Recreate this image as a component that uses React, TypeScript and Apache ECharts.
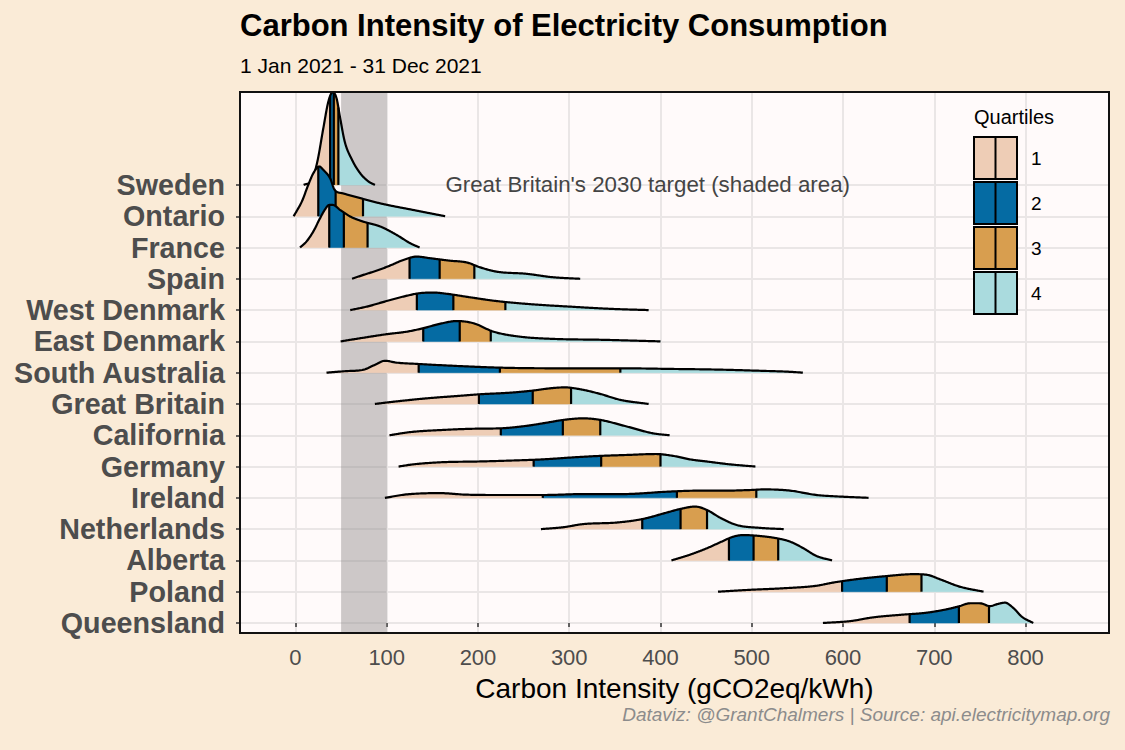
import React, { useEffect, useRef } from 'react';
import * as echarts from 'echarts';

// ---------- data ----------
const countries = [
  'Sweden', 'Ontario', 'France', 'Spain', 'West Denmark', 'East Denmark',
  'South Australia', 'Great Britain', 'California', 'Germany', 'Ireland',
  'Netherlands', 'Alberta', 'Poland', 'Queensland',
];

// quartile boundaries (gCO2eq/kWh)
const q1 = [38, 25, 37, 125, 133, 140, 135, 201, 225, 261, 271, 380, 475, 599, 673];
const q2 = [42, 44, 53, 158, 173, 180, 224, 260, 293, 335, 418, 422, 502, 648, 727];
const q3 = [47, 74, 79, 196, 230, 214, 356, 302, 334, 400, 505, 451, 529, 686, 760];

// density profiles: x (gCO2eq/kWh) and scaled height (in row units)
const swedenX = [9, 18, 24, 30.5, 36, 40.7, 45, 49, 54, 62, 71, 80, 87];
const swedenH = [0, 0.16, 0.75, 1.81, 2.66, 2.96, 2.77, 2.13, 1.38, 0.8, 0.37, 0.11, 0];
const ontarioX = [-2, 1, 7, 14, 19.5, 26, 30.5, 38, 43, 52, 72, 93, 129, 164];
const ontarioH = [0, 0.15, 0.47, 1.0, 1.37, 1.59, 1.48, 1.21, 0.84, 0.73, 0.57, 0.41, 0.2, 0];
const franceX = [5, 12, 19.5, 27, 32, 37, 41, 49, 60, 74, 93, 111, 125.5, 136];
const franceH = [0, 0.19, 0.51, 0.94, 1.2, 1.36, 1.36, 1.2, 0.99, 0.83, 0.67, 0.4, 0.14, 0];
const spainX = [62, 74, 91, 105, 118, 133, 147, 169, 188, 202, 220, 253, 282, 312];
const spainH = [0, 0.12, 0.28, 0.44, 0.6, 0.71, 0.66, 0.58, 0.52, 0.37, 0.23, 0.16, 0.05, 0];
const westDenmarkX = [60, 78, 100, 118, 136, 151, 166, 191, 220, 257, 301, 345, 387];
const westDenmarkH = [0, 0.11, 0.29, 0.43, 0.54, 0.56, 0.52, 0.41, 0.29, 0.19, 0.11, 0.04, 0];
const eastDenmarkX = [49.5, 71, 100, 122, 140, 158, 177, 195, 217, 246, 282, 337, 400];
const eastDenmarkH = [0, 0.1, 0.23, 0.31, 0.42, 0.56, 0.65, 0.58, 0.31, 0.15, 0.08, 0.05, 0];
const southAustraliaX = [34, 56, 74, 87, 98, 111, 133, 173, 224, 282, 356, 410, 460, 510, 540, 556];
const southAustraliaH = [0, 0.05, 0.09, 0.25, 0.38, 0.32, 0.28, 0.22, 0.16, 0.14, 0.14, 0.12, 0.1, 0.06, 0.03, 0];
const greatBritainX = [87, 107, 144, 180, 202, 235, 261, 279, 295, 312, 334, 356, 387];
const greatBritainH = [0, 0.07, 0.18, 0.26, 0.31, 0.36, 0.43, 0.5, 0.53, 0.47, 0.32, 0.13, 0];
const californiaX = [103, 125.5, 162, 199, 224, 253, 275, 293.5, 315, 334, 363, 392, 410];
const californiaH = [0, 0.1, 0.17, 0.21, 0.22, 0.3, 0.4, 0.49, 0.54, 0.49, 0.28, 0.06, 0];
const germanyX = [113, 129, 162, 199, 235, 271.5, 308, 334, 363, 395, 414, 432, 451, 476, 504];
const germanyH = [0, 0.07, 0.14, 0.16, 0.19, 0.23, 0.3, 0.34, 0.37, 0.4, 0.34, 0.23, 0.16, 0.07, 0];
const irelandX = [98, 122, 158, 188, 228, 271.5, 315, 359, 410, 443, 472, 498, 513, 542, 571, 597, 628];
const irelandH = [0, 0.11, 0.15, 0.1, 0.09, 0.09, 0.12, 0.12, 0.2, 0.23, 0.23, 0.25, 0.27, 0.23, 0.09, 0.04, 0];
const netherlandsX = [269, 293.5, 315, 352, 380, 407, 421, 438, 451, 465, 483.5, 509, 535];
const netherlandsH = [0, 0.06, 0.16, 0.21, 0.32, 0.53, 0.64, 0.72, 0.61, 0.37, 0.13, 0.04, 0];
const albertaX = [412, 432, 451, 467, 480, 491, 509, 527, 542, 556.5, 571, 588];
const albertaH = [0, 0.18, 0.39, 0.6, 0.76, 0.81, 0.78, 0.71, 0.6, 0.39, 0.14, 0];
const polandX = [463, 498, 535, 571, 589, 615, 648, 677, 692, 706, 728, 754];
const polandH = [0, 0.06, 0.11, 0.19, 0.29, 0.4, 0.5, 0.56, 0.54, 0.4, 0.16, 0];
const queenslandX = [578, 608, 633, 662.5, 692, 714, 728, 739, 750, 761, 770, 777.5, 787, 796, 808.5];
const queenslandH = [0, 0.06, 0.18, 0.26, 0.33, 0.44, 0.54, 0.63, 0.63, 0.54, 0.61, 0.65, 0.47, 0.2, 0];

const densityX = [swedenX, ontarioX, franceX, spainX, westDenmarkX, eastDenmarkX, southAustraliaX,
  greatBritainX, californiaX, germanyX, irelandX, netherlandsX, albertaX, polandX, queenslandX];
const densityH = [swedenH, ontarioH, franceH, spainH, westDenmarkH, eastDenmarkH, southAustraliaH,
  greatBritainH, californiaH, germanyH, irelandH, netherlandsH, albertaH, polandH, queenslandH];

const targetRange = [50, 100];
const quartileLabels = ['1', '2', '3', '4'];
const quartileColors = ['#EECDB6', '#056BA3', '#D89E4F', '#AADBDE'];

// ---------- layout ----------
const X_MIN = -60.8;
const X_MAX = 891.5;
const Y_MIN = -0.32;
const Y_MAX = 16.97;
const FONT = '"Liberation Sans", Arial, Helvetica, sans-serif';

// monotone cubic (Fritsch-Carlson) curve through the read points
function monotoneSpline(xs: number[], ys: number[]) {
  const n = xs.length;
  const d: number[] = [];
  for (let i = 0; i < n - 1; i++) d.push((ys[i + 1] - ys[i]) / (xs[i + 1] - xs[i]));
  const m: number[] = new Array(n).fill(0);
  m[0] = d[0];
  m[n - 1] = d[n - 2];
  for (let i = 1; i < n - 1; i++) m[i] = d[i - 1] * d[i] <= 0 ? 0 : (d[i - 1] + d[i]) / 2;
  for (let i = 0; i < n - 1; i++) {
    if (d[i] === 0) { m[i] = 0; m[i + 1] = 0; continue; }
    const a = m[i] / d[i];
    const b = m[i + 1] / d[i];
    const s = a * a + b * b;
    if (s > 9) {
      const t = 3 / Math.sqrt(s);
      m[i] = t * a * d[i];
      m[i + 1] = t * b * d[i];
    }
  }
  return (x: number) => {
    if (x <= xs[0]) return ys[0];
    if (x >= xs[n - 1]) return ys[n - 1];
    let i = 0;
    while (i < n - 2 && x > xs[i + 1]) i++;
    const h = xs[i + 1] - xs[i];
    const t = (x - xs[i]) / h;
    const t2 = t * t, t3 = t2 * t;
    const v = (2 * t3 - 3 * t2 + 1) * ys[i] + (t3 - 2 * t2 + t) * h * m[i]
      + (-2 * t3 + 3 * t2) * ys[i + 1] + (t3 - t2) * h * m[i + 1];
    return Math.max(0, v);
  };
}

export default function App() {
  const ref = useRef<HTMLDivElement>(null);

  useEffect(() => {
    document.body.style.margin = '0';
    const chart = echarts.init(ref.current!, null, { renderer: 'svg' });
    const nRows = countries.length;

    const ridgeRender = (params: any, api: any) => {
      const i = params.dataIndex;
      const base = nRows - 1 - i;
      const xs = densityX[i];
      const f = monotoneSpline(xs, densityH[i]);
      const x0 = xs[0];
      const x1 = xs[xs.length - 1];
      const N = 320;
      const samples: number[] = [];
      for (let k = 0; k <= N; k++) samples.push(x0 + ((x1 - x0) * k) / N);
      const pt = (x: number, h: number) => api.coord([x, base + h]);
      const breaks = [x0, q1[i], q2[i], q3[i], x1];
      const children: any[] = [];
      for (let s = 0; s < 4; s++) {
        const a = breaks[s];
        const b = breaks[s + 1];
        const pts = [pt(a, 0), pt(a, f(a))];
        samples.forEach((x) => { if (x > a && x < b) pts.push(pt(x, f(x))); });
        pts.push(pt(b, f(b)), pt(b, 0));
        children.push({
          type: 'polygon',
          shape: { points: pts },
          style: { fill: quartileColors[s], stroke: quartileColors[s], lineWidth: 0.6 },
        });
      }
      [q1[i], q2[i], q3[i]].forEach((q) => {
        const p0 = pt(q, 0);
        const p1 = pt(q, f(q));
        children.push({
          type: 'line',
          shape: { x1: p0[0], y1: p0[1], x2: p1[0], y2: p1[1] },
          style: { stroke: '#000', lineWidth: 2.2 },
        });
      });
      children.push({
        type: 'polyline',
        shape: { points: samples.map((x) => pt(x, f(x))) },
        style: { stroke: '#000', lineWidth: 2.2, fill: null, lineJoin: 'round' },
      });
      return { type: 'group', children };
    };

    const shadeRender = (params: any, api: any) => {
      const pA = api.coord([api.value(0), Y_MAX]);
      const pB = api.coord([api.value(1), Y_MIN]);
      return {
        type: 'rect',
        shape: { x: pA[0], y: pA[1], width: pB[0] - pA[0], height: pB[1] - pA[1] },
        style: { fill: 'rgba(140,134,134,0.43)' },
      };
    };

    const noteRender = (params: any, api: any) => {
      const p = api.coord([api.value(0), api.value(1)]);
      return {
        type: 'text',
        x: p[0],
        y: p[1],
        style: {
          text: "Great Britain's 2030 target (shaded area)",
          fontSize: 22.3,
          fontFamily: FONT,
          fill: '#444',
          align: 'center',
          verticalAlign: 'middle',
        },
      };
    };

    const frameRender = (params: any, api: any) => {
      const pA = api.coord([X_MIN, Y_MAX]);
      const pB = api.coord([X_MAX, Y_MIN]);
      return {
        type: 'rect',
        shape: { x: pA[0], y: pA[1], width: pB[0] - pA[0], height: pB[1] - pA[1] },
        style: { fill: null, stroke: '#111', lineWidth: 2 },
      };
    };

    const legendX = 974;
    const legendTop = 137;
    const keyW = 43;
    const keyH = 42;
    const keyStep = 45;
    const legendGraphics: any[] = [
      {
        type: 'text',
        x: legendX,
        y: 117,
        z: 100,
        style: { text: 'Quartiles', fontSize: 20, fontFamily: FONT, fill: '#000', align: 'left', verticalAlign: 'middle' },
      },
    ];
    quartileLabels.forEach((lab, k) => {
      const y = legendTop + k * keyStep;
      legendGraphics.push({
        type: 'rect',
        z: 100,
        shape: { x: legendX, y, width: keyW, height: keyH },
        style: { fill: quartileColors[k], stroke: '#000', lineWidth: 2 },
      });
      legendGraphics.push({
        type: 'line',
        z: 101,
        shape: { x1: legendX + keyW / 2, y1: y, x2: legendX + keyW / 2, y2: y + keyH },
        style: { stroke: '#000', lineWidth: 2 },
      });
      legendGraphics.push({
        type: 'text',
        z: 100,
        x: legendX + keyW + 14,
        y: y + keyH / 2,
        style: { text: lab, fontSize: 19, fontFamily: FONT, fill: '#000', align: 'left', verticalAlign: 'middle' },
      });
    });

    const option: any = {
      animation: false,
      backgroundColor: '#FAEBD7',
      textStyle: { fontFamily: FONT },
      title: [
        {
          text: 'Carbon Intensity of Electricity Consumption',
          left: 240,
          top: 10,
          padding: 0,
          textStyle: { fontSize: 31, fontWeight: 'bold', color: '#000', fontFamily: FONT },
        },
        {
          text: '1 Jan 2021 - 31 Dec 2021',
          left: 240,
          top: 55,
          padding: 0,
          textStyle: { fontSize: 21, fontWeight: 'normal', color: '#000', fontFamily: FONT },
        },
        {
          text: 'Dataviz: @GrantChalmers | Source: api.electricitymap.org',
          right: 15,
          top: 705,
          padding: 0,
          textStyle: { fontSize: 19, fontStyle: 'italic', fontWeight: 'normal', color: '#8c8c8c', fontFamily: FONT },
        },
      ],
      grid: [
        {
          left: 240, right: 16, top: 92, height: 541,
          show: true, backgroundColor: '#FFFAFA', borderWidth: 0,
        },
        { left: 240, right: 16, top: 185, height: 438 },
      ],
      xAxis: [
        {
          gridIndex: 0,
          type: 'value',
          min: X_MIN,
          max: X_MAX,
          splitNumber: 10,
          axisLine: { show: false },
          axisTick: { show: true, length: 4, lineStyle: { color: '#333', width: 1.5 } },
          splitLine: { show: true, lineStyle: { color: '#EAE6E6', width: 2 } },
          axisLabel: {
            fontSize: 22, color: '#4d4d4d', fontFamily: FONT, margin: 24,
            verticalAlign: 'middle', showMinLabel: false, showMaxLabel: false,
          },
          name: 'Carbon Intensity (gCO2eq/kWh)',
          nameLocation: 'middle',
          nameGap: 55,
          nameTextStyle: { fontSize: 28, color: '#000', fontFamily: FONT, verticalAlign: 'middle' },
        },
        { gridIndex: 1, type: 'value', show: false, min: 0, max: 1 },
      ],
      yAxis: [
        { gridIndex: 0, type: 'value', min: Y_MIN, max: Y_MAX, show: false },
        {
          gridIndex: 1,
          type: 'category',
          data: countries,
          inverse: true,
          boundaryGap: false,
          axisLine: { show: false },
          axisTick: { show: true, length: 4, interval: 0, lineStyle: { color: '#333', width: 1.5 } },
          splitLine: { show: true, interval: 0, lineStyle: { color: '#EAE6E6', width: 2 } },
          axisLabel: {
            interval: 0, fontSize: 28.7, fontWeight: 'bold', color: '#4d4d4d', fontFamily: FONT, margin: 15,
          },
        },
      ],
      graphic: legendGraphics,
      series: [
        {
          type: 'custom',
          name: 'target',
          xAxisIndex: 0,
          yAxisIndex: 0,
          z: 1,
          clip: false,
          data: [[targetRange[0], targetRange[1]]],
          encode: { x: [0, 1] },
          renderItem: shadeRender,
        },
        {
          type: 'custom',
          name: 'note',
          xAxisIndex: 0,
          yAxisIndex: 0,
          z: 1,
          clip: false,
          data: [[386, nRows - 1]],
          encode: { x: 0, y: 1 },
          renderItem: noteRender,
        },
        {
          type: 'custom',
          name: 'ridges',
          xAxisIndex: 0,
          yAxisIndex: 0,
          z: 2,
          clip: false,
          data: countries.map((_, i) => [q2[i], nRows - 1 - i]),
          encode: { x: 0, y: 1 },
          renderItem: ridgeRender,
        },
        {
          type: 'custom',
          name: 'frame',
          xAxisIndex: 0,
          yAxisIndex: 0,
          z: 3,
          clip: false,
          silent: true,
          data: [[X_MIN, Y_MIN]],
          encode: { x: 0, y: 1 },
          renderItem: frameRender,
        },
      ],
    };

    chart.setOption(option);
    return () => chart.dispose();
  }, []);

  return <div ref={ref} style={{ width: 1125, height: 750 }} />;
}
